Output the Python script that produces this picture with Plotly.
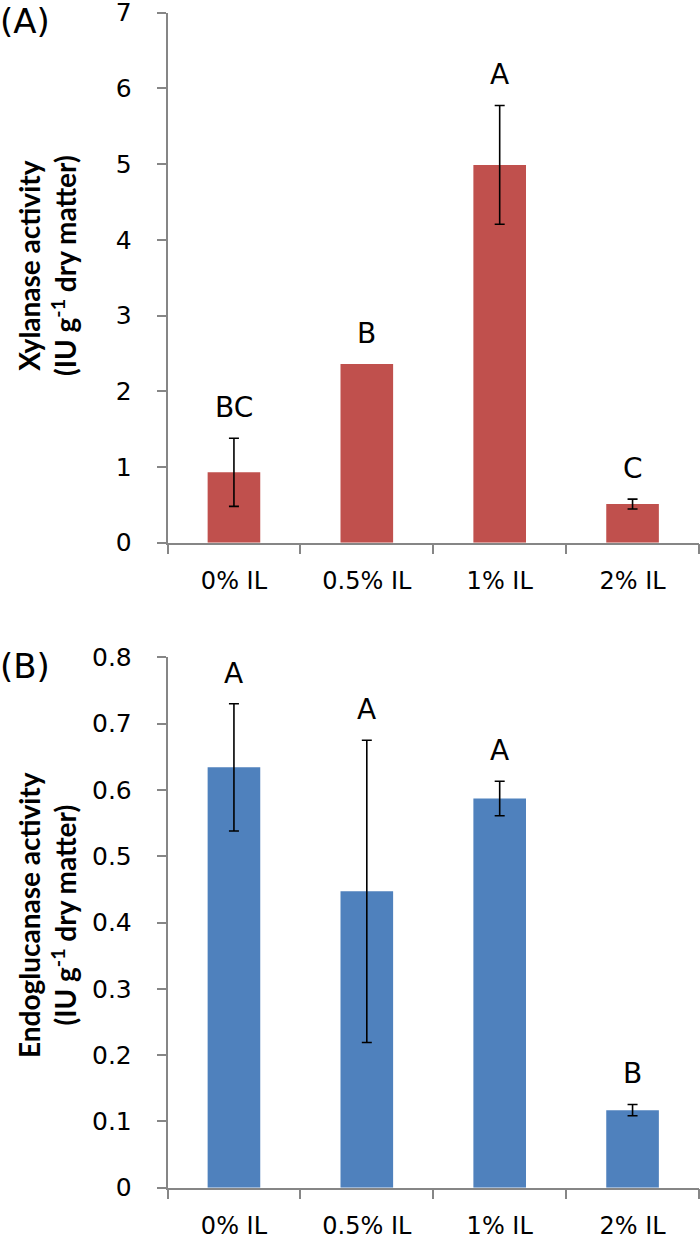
import plotly.graph_objects as go

categories = ["0% IL", "0.5% IL", "1% IL", "2% IL"]

xylanase = [0.93, 2.36, 4.99, 0.51]
xylanase_err = [0.45, None, 0.785, 0.065]
xylanase_letters = ["BC", "B", "A", "C"]

endoglucanase = [0.634, 0.447, 0.587, 0.117]
endoglucanase_err = [0.096, 0.228, 0.026, 0.0085]
endoglucanase_letters = ["A", "A", "A", "B"]

W, H = 700, 1240
RED = "#C0504D"
BLUE = "#4F81BD"
AXIS = "#868686"
TICKFONT = dict(family="DejaVu Sans", size=25, color="#000000")
XTICKFONT = dict(family="DejaVu Sans", size=24, color="#000000")
LETTERFONT = dict(family="DejaVu Sans", size=28, color="#000000")
TITLEFONT = dict(family="Lato", size=28, color="#000000")
PANELFONT = dict(family="DejaVu Sans", size=34, color="#000000")


def py(px):
    return 1 - px / H


def px_x(px):
    return px / W


fig = go.Figure()


def add_panel(values, errs, color, xa, ya):
    fig.add_trace(go.Bar(
        x=categories, y=values, marker_color=color, marker_line_width=0,
        xaxis=xa, yaxis=ya, showlegend=False, hoverinfo="skip",
    ))
    fig.add_trace(go.Scatter(
        x=categories,
        y=[v if e is not None else None for v, e in zip(values, errs)],
        mode="markers", marker=dict(size=1, opacity=0),
        error_y=dict(type="data", array=[e if e is not None else 0 for e in errs],
                     visible=True, color="#000000", thickness=1.6, width=5),
        xaxis=xa, yaxis=ya, showlegend=False, hoverinfo="skip",
    ))


add_panel(xylanase, xylanase_err, RED, "x", "y")
add_panel(endoglucanase, endoglucanase_err, BLUE, "x2", "y2")

xdom = [px_x(167.5), px_x(699)]
common_x = dict(
    type="category", range=[-0.5, 3.5], showline=True, linecolor=AXIS, linewidth=1.5,
    ticks="outside", tickson="boundaries", ticklen=10, tickcolor=AXIS, tickwidth=1.5,
    tickfont=XTICKFONT, showgrid=False, zeroline=False, ticklabelstandoff=16,
    automargin=False, ticklabeloverflow="allow",
)
common_y = dict(
    showline=True, linecolor=AXIS, linewidth=1.5, ticks="outside", ticklen=9,
    tickcolor=AXIS, tickwidth=1.5, tickfont=TICKFONT, showgrid=False, zeroline=False,
    ticklabelstandoff=20, automargin=False, ticklabeloverflow="allow",
)

fig.update_layout(
    width=W, height=H, margin=dict(l=0, r=0, t=0, b=0, pad=0),
    paper_bgcolor="white", plot_bgcolor="white", bargap=0.604,
    xaxis=dict(domain=xdom, anchor="y", **common_x),
    yaxis=dict(domain=[py(542.7), py(12.7)], anchor="x", range=[0, 7], dtick=1, **common_y),
    xaxis2=dict(domain=xdom, anchor="y2", **common_x),
    yaxis2=dict(domain=[py(1187.7), py(657.3)], anchor="x2", range=[0, 0.8], dtick=0.1,
                tickformat=".1~f", **common_y),
)

annotations = []
for cat, v, e, t in zip(categories, xylanase, xylanase_err, xylanase_letters):
    top = v + (e or 0)
    annotations.append(dict(x=cat, y=top, xref="x", yref="y", text=t, showarrow=False,
                            yanchor="bottom", yshift=12, font=LETTERFONT))
for cat, v, e, t in zip(categories, endoglucanase, endoglucanase_err, endoglucanase_letters):
    top = v + (e or 0)
    annotations.append(dict(x=cat, y=top, xref="x2", yref="y2", text=t, showarrow=False,
                            yanchor="bottom", yshift=12, font=LETTERFONT))

annotations += [
    dict(x=0, y=py(21), xref="paper", yref="paper", text="(A)", showarrow=False,
         xanchor="left", yanchor="middle", xshift=-2, font=PANELFONT),
    dict(x=0, y=py(666), xref="paper", yref="paper", text="(B)", showarrow=False,
         xanchor="left", yanchor="middle", xshift=-2, font=PANELFONT),
    dict(x=px_x(47), y=py(266), xref="paper", yref="paper",
         text="<b>Xylanase activity<br>(IU g<sup>-1</sup> dry matter)</b>", showarrow=False,
         textangle=-90, xanchor="center", yanchor="middle", font=TITLEFONT),
    dict(x=px_x(47), y=py(915), xref="paper", yref="paper",
         text="<b>Endoglucanase activity<br>(IU g<sup>-1</sup> dry matter)</b>", showarrow=False,
         textangle=-90, xanchor="center", yanchor="middle", font=TITLEFONT),
]
fig.update_layout(annotations=annotations)

# remove the browser's default 8px body margin so the figure fills the window exactly
fig.write_html("out.html", config={"displayModeBar": False},
               post_script="document.body.style.margin='0px';")
